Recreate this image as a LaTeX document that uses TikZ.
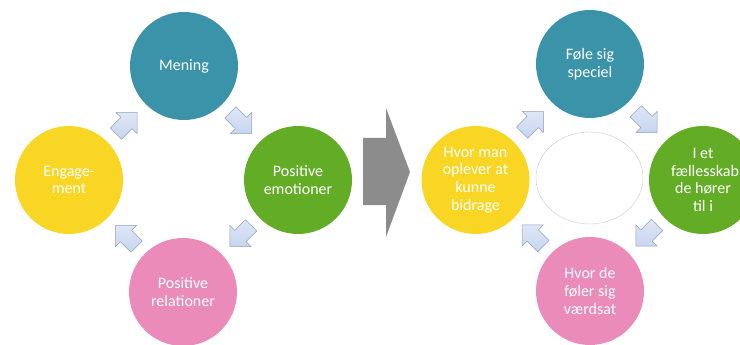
\documentclass[tikz,border=0pt]{standalone}
\usepackage{fontspec}
\setmainfont{Carlito}
\usetikzlibrary{calc,shapes.geometric}
\definecolor{cteal}{RGB}{58,147,168}
\definecolor{cgreen}{RGB}{99,172,38}
\definecolor{cyellow}{RGB}{249,214,36}
\definecolor{cpink}{RGB}{234,139,186}
\definecolor{cgray}{RGB}{140,140,140}
\definecolor{ablue}{RGB}{198,213,239}
\definecolor{ablueL}{RGB}{222,231,247}
\definecolor{aline}{RGB}{150,162,185}
\tikzset{
  bubble/.style={circle, minimum size=108pt, inner sep=0pt, text=white, align=center,
    font=\fontsize{16}{17.7}\selectfont},
  barrow/.pic={\draw[draw=aline, line width=0.5pt, top color=ablueL, bottom color=ablue, line join=round]
     (-15,-8) -- (0,-8) -- (0,-15) -- (15,0) -- (0,15) -- (0,8) -- (-15,8) -- cycle;},
}
\begin{document}
\begin{tikzpicture}[x=1pt,y=-1pt]
\path[use as bounding box, clip] (0,0) rectangle (740,345);
\fill[white] (0,0) rectangle (740,345);
% left cycle
\node[bubble, fill=cteal]   (mening) at (184,66)  {Mening};
\node[bubble, fill=cgreen]  (emo)    at (298,180) {Positive\\emotioner};
\node[bubble, fill=cpink]   (rel)    at (183,292) {Positive\\relationer};
\node[bubble, fill=cyellow] (eng)    at (69,180)  {Engage-\\ment};
\pic[rotate=45]   at ($(eng)!0.5!(mening)$) {barrow};
\pic[rotate=-45]  at ($(mening)!0.5!(emo)$) {barrow};
\pic[rotate=-135] at ($(emo)!0.5!(rel)$) {barrow};
\pic[rotate=135]  at ($(rel)!0.5!(eng)$) {barrow};
% big gray arrow
\fill[cgray] (363,138) -- (386,138) -- (386,108) -- (410,172) -- (386,237) -- (386,205) -- (363,205) -- cycle;
% right cycle
\node[draw=black!20, line width=0.4pt, ellipse, minimum width=107pt, minimum height=92pt, inner sep=0pt] (mid) at (589.5,178) {};
\node[bubble, fill=cteal]   (spec)  at (590,64)  {Føle sig\\speciel};
\node[bubble, fill=cgreen]  (faell) at (703,180) {I et\\\hspace*{4pt}fællesskab\\de hører\\til i};
\node[bubble, fill=cpink]   (vaerd) at (590,291) {Hvor de\\føler sig\\værdsat};
\node[bubble, fill=cyellow] (bidr)  at (475.5,180) {Hvor man\\oplever at\\kunne\\bidrage};
\pic[rotate=45]   at ($(bidr)!0.5!(spec)$) {barrow};
\pic[rotate=-45]  at ($(spec)!0.5!(faell)$) {barrow};
\pic[rotate=-135] at ($(faell)!0.5!(vaerd)$) {barrow};
\pic[rotate=135]  at ($(vaerd)!0.5!(bidr)$) {barrow};
\end{tikzpicture}
\end{document}
